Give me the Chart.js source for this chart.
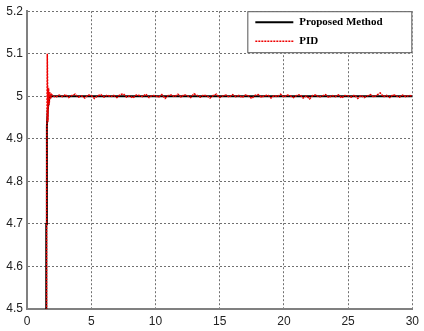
<!DOCTYPE html>
<html>
<head>
<meta charset="utf-8">
<script src="https://cdn.jsdelivr.net/npm/chart.js@4"></script>
<style>
  html, body { margin: 0; padding: 0; background: #fff; }
  #wrap { width: 424px; height: 331px; }
</style>
</head>
<body>
<div id="wrap"><canvas id="stepChart" width="424" height="331"></canvas></div>
<script>
// step response data (time in s, output)
const proposedTime = [0, 1.45, 1.5, 1.55, 1.62, 1.7, 1.8, 2, 30];
const proposedValue = [0, 0, 4.7, 4.93, 4.97, 4.99, 5.0, 5.0, 5.0];

const pidTime = [0, 1.47, 1.53, 1.58, 1.63, 1.68, 1.73, 1.78, 1.85, 1.92,
  2, 2.25, 2.5, 2.75, 3, 3.25, 3.5, 3.75, 4, 4.25, 4.5, 4.75,
  5, 5.25, 5.5, 5.75, 6, 6.25, 6.5, 6.75, 7, 7.25, 7.5, 7.75,
  8, 8.25, 8.5, 8.75, 9, 9.25, 9.5, 9.75, 10, 10.25, 10.5, 10.75,
  11, 11.25, 11.5, 11.75, 12, 12.25, 12.5, 12.75, 13, 13.25, 13.5, 13.75,
  14, 14.25, 14.5, 14.75, 15, 15.25, 15.5, 15.75, 16, 16.25, 16.5, 16.75,
  17, 17.25, 17.5, 17.75, 18, 18.25, 18.5, 18.75, 19, 19.25, 19.5, 19.75,
  20, 20.25, 20.5, 20.75, 21, 21.25, 21.5, 21.75, 22, 22.25, 22.5, 22.75,
  23, 23.25, 23.5, 23.75, 24, 24.25, 24.5, 24.75, 25, 25.25, 25.5, 25.75,
  26, 26.25, 26.5, 26.75, 27, 27.25, 27.5, 27.75, 28, 28.25, 28.5, 28.75,
  29, 29.25, 29.5, 29.75, 30];
const pidValue = [0, 0, 4.8, 5.1, 4.94, 5.02, 4.98, 5.01, 4.994, 5.004,
  5.001, 4.998, 5.003, 4.999, 5.004, 4.997, 5.002, 5.005, 4.998, 5.001, 4.996, 5.003,
  5.002, 4.995, 5.001, 5.004, 4.998, 5.003, 4.999, 5.002, 4.997, 5.004, 5.006, 4.998,
  5.001, 4.996, 5.003, 5.002, 4.999, 5.005, 4.997, 5.002, 5.001, 4.998, 5.004, 4.995,
  5.002, 5.003, 4.999, 5.005, 4.998, 5.004, 5.001, 4.997, 5.006, 5.002, 4.998, 5.003,
  5.001, 4.996, 5.002, 5.005, 4.997, 5.001, 5.003, 4.998, 5.004, 4.999, 5.002, 4.997,
  5.003, 5.001, 4.995, 5.002, 5.004, 4.998, 5.001, 5.003, 4.996, 5.002, 4.999, 5.005,
  4.998, 5.003, 5.001, 4.997, 5.002, 5.004, 4.996, 5.001, 4.994, 5.002, 5.003, 4.998,
  5.001, 5.004, 4.997, 5.002, 4.999, 5.003, 4.996, 5.002, 5.001, 4.998, 5.003, 4.995,
  5.002, 4.997, 5.001, 5.004, 4.998, 5.003, 5.008, 4.999, 5.002, 4.997, 5.004, 5.001,
  4.998, 5.003, 4.999, 5.002, 5.0];

const seriesLabels = ['Proposed Method', 'PID'];
const yTicks = [4.5, 4.6, 4.7, 4.8, 4.9, 5, 5.1, 5.2];
const xTicks = [0, 5, 10, 15, 20, 25, 30];

const zip = (xs, ys) => xs.map((x, i) => ({ x: x, y: ys[i] }));

// legend box drawn inside the top right of the plot
const boxLegend = {
  id: 'boxLegend',
  afterDraw(chart) {
    const ctx = chart.ctx;
    const area = chart.chartArea;
    const right = area.right;
    const left = right - 165;
    const top = area.top;
    const h = 42;
    ctx.save();
    ctx.fillStyle = '#fff';
    ctx.fillRect(left, top, right - left, h);
    ctx.strokeStyle = '#555';
    ctx.lineWidth = 1;
    ctx.strokeRect(left + 0.5, top + 0.5, right - left - 1, h - 1);
    ctx.font = 'bold 11px "Liberation Serif", "Times New Roman", serif';
    ctx.textBaseline = 'middle';
    chart.data.datasets.forEach((ds, i) => {
      const y = top + 11 + i * 19;
      ctx.strokeStyle = ds.borderColor;
      ctx.lineWidth = ds.borderWidth;
      ctx.setLineDash(ds.borderDash || []);
      ctx.beginPath();
      ctx.moveTo(left + 8, y);
      ctx.lineTo(left + 46, y);
      ctx.stroke();
      ctx.setLineDash([]);
      ctx.fillStyle = '#000';
      ctx.fillText(ds.label, left + 52, y);
    });
    ctx.restore();
  }
};

const ctx = document.getElementById('stepChart').getContext('2d');
const stepChart = new Chart(ctx, {
  type: 'line',
  data: {
    datasets: [{
      label: seriesLabels[0],
      data: zip(proposedTime, proposedValue),
      borderColor: '#000000',
      borderWidth: 2,
      pointRadius: 0,
      tension: 0,
      order: 1
    }, {
      label: seriesLabels[1],
      data: zip(pidTime, pidValue),
      borderColor: '#ee0000',
      borderWidth: 1.5,
      borderDash: [2, 1],
      pointRadius: 0,
      tension: 0,
      order: 0
    }]
  },
  options: {
    responsive: false,
    animation: false,
    layout: { padding: { top: 10, right: 11, left: 0, bottom: 0 } },
    plugins: {
      legend: { display: false },
      tooltip: { enabled: false }
    },
    scales: {
      x: {
        type: 'linear',
        min: 0,
        max: 30,
        afterBuildTicks: (scale) => { scale.ticks = xTicks.map(v => ({ value: v })); },
        afterFit: (scale) => { scale.height = 22; },
        grid: { color: '#707070', lineWidth: 1, drawTicks: false },
        border: { display: true, color: '#808080', width: 2, dash: [2, 2] },
        ticks: {
          color: '#222',
          font: { family: '"Liberation Sans", Arial, sans-serif', size: 12 },
          padding: 5,
          maxRotation: 0
        }
      },
      y: {
        min: 4.5,
        max: 5.2,
        afterBuildTicks: (scale) => { scale.ticks = yTicks.map(v => ({ value: v })); },
        afterFit: (scale) => { scale.width = 27; },
        grid: { color: '#707070', lineWidth: 1, drawTicks: false },
        border: { display: true, color: '#808080', width: 2, dash: [2, 2] },
        ticks: {
          color: '#222',
          font: { family: '"Liberation Sans", Arial, sans-serif', size: 12 },
          padding: 4,
          callback: (v) => String(Math.round(v * 10) / 10)
        }
      }
    }
  },
  plugins: [boxLegend]
});
</script>
</body>
</html>
